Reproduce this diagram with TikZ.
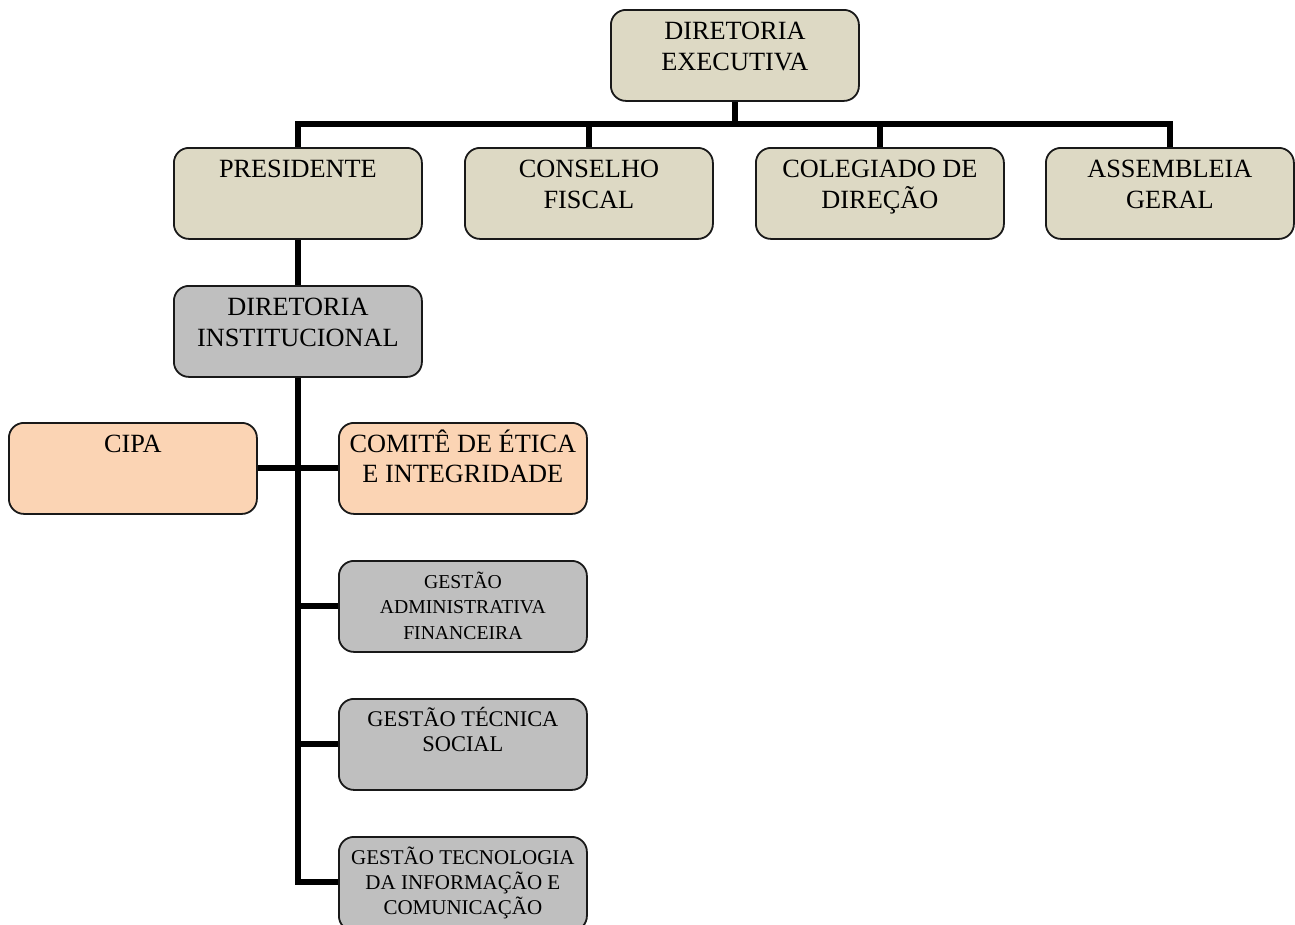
\documentclass[tikz,border=0pt]{standalone}
\usepackage{fontspec}
\setmainfont{Liberation Serif}
\definecolor{beigeC}{HTML}{DDD9C4}
\definecolor{grayC}{HTML}{BFBFBF}
\definecolor{peachC}{HTML}{FBD4B4}
\pgfdeclarelayer{bg}
\pgfsetlayers{bg,main}
\tikzset{
  box/.style={draw=black!90, line width=1.8pt, rounded corners=15pt,
    minimum width=248pt, minimum height=91pt, inner sep=0pt, anchor=north west},
  beigebox/.style={box, fill=beigeC},
  graybox/.style={box, fill=grayC},
  peachbox/.style={box, fill=peachC},
  biglbl/.style={anchor=north, inner sep=0pt, align=center, yshift=-4pt,
    font=\fontsize{26.3}{31}\selectfont},
  smalllbl/.style={anchor=north, inner sep=0pt, align=center, yshift=-6pt},
  conn/.style={line width=6pt, black}
}
\begin{document}
\begin{tikzpicture}[x=1pt,y=-1pt]
\useasboundingbox (0,0) rectangle (1295,924);
\clip (0,0) rectangle (1295,924);
% boxes
\node[beigebox] (de) at (610,9) {};
\node[beigebox] (pres) at (173,147) {};
\node[beigebox] (cf) at (464,147) {};
\node[beigebox] (cd) at (755,147) {};
\node[beigebox] (ag) at (1045,147) {};
\node[graybox] (di) at (173,285) {};
\node[peachbox] (cipa) at (8,422) {};
\node[peachbox] (com) at (338,422) {};
\node[graybox] (adm) at (338,560) {};
\node[graybox] (tsoc) at (338,698) {};
\node[graybox, minimum height=94pt] (tic) at (338,836) {};
% labels
\node[biglbl] (tde) at (de.north) {\rule{0pt}{26pt}DIRETORIA\\EXECUTIVA};
\node[biglbl] (tpres) at (pres.north) {\rule{0pt}{26pt}PRESIDENTE};
\node[biglbl] (tcf) at (cf.north) {\rule{0pt}{26pt}CONSELHO\\FISCAL};
\node[biglbl] (tcd) at (cd.north) {\rule{0pt}{26pt}COLEGIADO DE\\DIREÇÃO};
\node[biglbl] (tag) at (ag.north) {\rule{0pt}{26pt}ASSEMBLEIA\\GERAL};
\node[biglbl] (tdi) at (di.north) {\rule{0pt}{26pt}DIRETORIA\\INSTITUCIONAL};
\node[biglbl] (tcipa) at (cipa.north) {\rule{0pt}{26pt}CIPA};
\node[biglbl, font=\fontsize{26.3}{30}\selectfont] (tcom) at (com.north) {\rule{0pt}{26pt}COMITÊ DE ÉTICA\\E INTEGRIDADE};
\node[smalllbl, font=\fontsize{19.7}{25.5}\selectfont] (tadm) at (adm.north) {\rule{0pt}{22pt}GESTÃO\\ADMINISTRATIVA\\FINANCEIRA};
\node[smalllbl, font=\fontsize{22.4}{25}\selectfont] (ttsoc) at (tsoc.north) {\rule{0pt}{22pt}GESTÃO TÉCNICA\\SOCIAL};
\node[smalllbl, font=\fontsize{21}{25}\selectfont] (ttic) at (tic.north) {\rule{0pt}{22pt}GESTÃO TECNOLOGIA\\DA INFORMAÇÃO E\\COMUNICAÇÃO};
% connectors
\coordinate (bus) at (733,124);
\coordinate (ticrow) at (338,882);
\begin{pgfonlayer}{bg}
\draw[conn] (de.south) -- (de.south |- bus);
\draw[conn] (pres.north) -- (pres.north |- bus) -- (ag.north |- bus) -- (ag.north);
\draw[conn] (cf.north) -- (cf.north |- bus);
\draw[conn] (cd.north) -- (cd.north |- bus);
\draw[conn] (pres.south) -- (di.north);
\draw[conn] (di.south) -- (di.south |- ticrow) -- (ticrow);
\draw[conn] (cipa.east) -- (com.west);
\draw[conn] (di.south |- adm.west) -- (adm.west);
\draw[conn] (di.south |- tsoc.west) -- (tsoc.west);
\end{pgfonlayer}
\end{tikzpicture}
\end{document}
